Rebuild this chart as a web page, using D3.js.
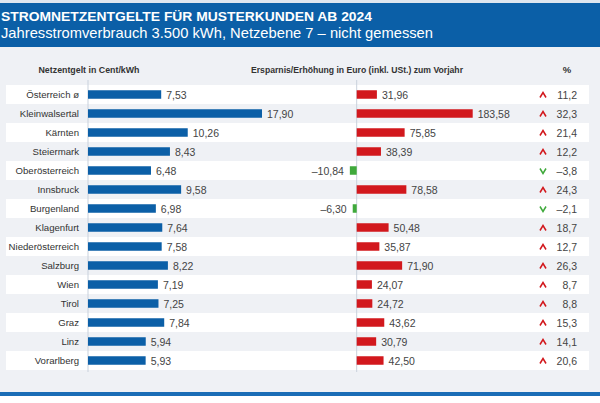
<!DOCTYPE html>
<html lang='de'>
    <head>
        <meta charset="utf-8">
        <title>Stromnetzentgelte</title>
        <script src='https://d3js.org/d3.v7.min.js'></script>
        <style>
            body { margin: 0; background: #fff; }
            svg { display: block; font-family: 'Liberation Sans', Arial, sans-serif; }
        </style>
    </head>
    <body>
        <script type='text/javascript'>
            var w = 600;
            var h = 403;

            var regions = ['Österreich ø', 'Kleinwalsertal', 'Kärnten', 'Steiermark', 'Oberösterreich',
                           'Innsbruck', 'Burgenland', 'Klagenfurt', 'Niederösterreich', 'Salzburg',
                           'Wien', 'Tirol', 'Graz', 'Linz', 'Vorarlberg'];
            var netzentgelt = [7.53, 17.90, 10.26, 8.43, 6.48, 9.58, 6.98, 7.64, 7.58, 8.22, 7.19, 7.25, 7.84, 5.94, 5.93];
            var aenderung = [31.96, 183.58, 75.85, 38.39, -10.84, 78.58, -6.30, 50.48, 35.87, 71.90, 24.07, 24.72, 43.62, 30.79, 42.50];
            var prozent = [11.2, 32.3, 21.4, 12.2, -3.8, 24.3, -2.1, 18.7, 12.7, 26.3, 8.7, 8.8, 15.3, 14.1, 20.6];

            var fmt = function(v, n) {
                var s = Math.abs(v).toFixed(n).replace('.', ',');
                return (v < 0 ? '\u2013' : '') + s;
            };

            var svg = d3.select('body').append('svg')
                .attr('width', w)
                .attr('height', h);

            // background + header
            svg.append('rect').attr('width', w).attr('height', h).attr('fill', '#eff1f5');
            svg.append('rect').attr('y', 0).attr('width', w).attr('height', 3).attr('fill', '#dfe6ef');
            svg.append('rect').attr('y', 3).attr('width', w).attr('height', 44).attr('fill', '#0b5fa7');
            svg.append('rect').attr('y', 392).attr('width', w).attr('height', 4).attr('fill', '#1a6db6');
            svg.append('rect').attr('y', 396).attr('width', w).attr('height', 7).attr('fill', '#ffffff');

            svg.append('text')
                .attr('x', 1).attr('y', 20.5)
                .attr('fill', '#fff')
                .attr('font-size', '13.5px')
                .attr('font-weight', 'bold')
                .attr('textLength', 371)
                .attr('lengthAdjust', 'spacingAndGlyphs')
                .text('STROMNETZENTGELTE FÜR MUSTERKUNDEN AB 2024');
            svg.append('text')
                .attr('x', 1).attr('y', 37.5)
                .attr('fill', '#fff')
                .attr('font-size', '14.5px')
                .attr('textLength', 432)
                .attr('lengthAdjust', 'spacingAndGlyphs')
                .text('Jahresstromverbrauch 3.500 kWh, Netzebene 7 \u2013 nicht gemessen');

            // scales
            var yScale = d3.scaleBand()
                .domain(regions)
                .range([85, 85 + regions.length * 19]);

            var xLeft = d3.scaleLinear()
                .domain([0, d3.max(netzentgelt)])
                .range([88, 262]);

            var xRight = d3.scaleLinear()
                .domain([0, d3.max(aenderung)])
                .range([356.7, 472.7]);

            var barH = 8.5;

            // white rows
            svg.selectAll('rect.row')
                .data(regions.filter(function(d, i) { return i % 2 === 0; }))
                .enter().append('rect')
                .attr('class', 'row')
                .attr('x', 6)
                .attr('width', 583)
                .attr('y', function(d) { return yScale(d); })
                .attr('height', yScale.bandwidth())
                .attr('fill', '#ffffff');

            // column headers
            var head = svg.append('g')
                .attr('font-size', '9.5px')
                .attr('font-weight', 'bold')
                .attr('fill', '#333');
            head.append('text').attr('x', 89).attr('y', 73).attr('text-anchor', 'middle')
                .attr('textLength', 101).attr('lengthAdjust', 'spacingAndGlyphs')
                .text('Netzentgelt in Cent/kWh');
            head.append('text').attr('x', 357).attr('y', 73).attr('text-anchor', 'middle')
                .attr('textLength', 212).attr('lengthAdjust', 'spacingAndGlyphs')
                .text('Ersparnis/Erhöhung in Euro (inkl. USt.) zum Vorjahr');
            head.append('text').attr('x', 567).attr('y', 73).attr('text-anchor', 'middle')
                .text('%');

            // axis lines
            svg.append('line')
                .attr('x1', 88).attr('x2', 88).attr('y1', 80).attr('y2', 372)
                .attr('stroke', '#c9d1dc').attr('stroke-width', 1);
            svg.append('line')
                .attr('x1', 356.7).attr('x2', 356.7).attr('y1', 80).attr('y2', 372)
                .attr('stroke', '#c9d1dc').attr('stroke-width', 1);

            var cy = function(i) { return yScale(regions[i]) + yScale.bandwidth() / 2; };

            // category labels
            svg.selectAll('text.cat')
                .data(regions)
                .enter().append('text')
                .attr('class', 'cat')
                .attr('x', 79)
                .attr('y', function(d, i) { return cy(i) + 3.5; })
                .attr('text-anchor', 'end')
                .attr('font-size', '9.6px')
                .attr('fill', '#333')
                .text(function(d) { return d; });

            // left bars
            svg.selectAll('rect.left')
                .data(netzentgelt)
                .enter().append('rect')
                .attr('class', 'left')
                .attr('x', xLeft(0))
                .attr('y', function(d, i) { return cy(i) - barH / 2; })
                .attr('width', function(d) { return xLeft(d) - xLeft(0); })
                .attr('height', barH)
                .attr('fill', '#0b5fa7');

            svg.selectAll('text.lval')
                .data(netzentgelt)
                .enter().append('text')
                .attr('class', 'lval')
                .attr('x', function(d) { return xLeft(d) + 5; })
                .attr('y', function(d, i) { return cy(i) + 4; })
                .attr('font-size', '10.5px')
                .attr('fill', '#444')
                .text(function(d) { return fmt(d, 2); });

            // right bars
            svg.selectAll('rect.right')
                .data(aenderung)
                .enter().append('rect')
                .attr('class', 'right')
                .attr('x', function(d) { return Math.min(xRight(0), xRight(d)); })
                .attr('y', function(d, i) { return cy(i) - barH / 2; })
                .attr('width', function(d) { return Math.abs(xRight(d) - xRight(0)); })
                .attr('height', barH)
                .attr('fill', function(d) { return d < 0 ? '#3fa93b' : '#d2181d'; });

            svg.selectAll('text.rval')
                .data(aenderung)
                .enter().append('text')
                .attr('class', 'rval')
                .attr('x', function(d) { return d < 0 ? xRight(d) - 6 : xRight(d) + 5; })
                .attr('y', function(d, i) { return cy(i) + 4; })
                .attr('text-anchor', function(d) { return d < 0 ? 'end' : 'start'; })
                .attr('font-size', '10.5px')
                .attr('fill', '#444')
                .text(function(d) { return fmt(d, 2); });

            // arrows
            svg.selectAll('path.arrow')
                .data(prozent)
                .enter().append('path')
                .attr('class', 'arrow')
                .attr('d', function(d, i) {
                    var x = 543, y = cy(i) + 0.5;
                    return d < 0
                        ? 'M' + (x - 3) + ',' + (y - 2.5) + 'L' + x + ',' + (y + 2.5) + 'L' + (x + 3) + ',' + (y - 2.5)
                        : 'M' + (x - 3) + ',' + (y + 2.5) + 'L' + x + ',' + (y - 2.5) + 'L' + (x + 3) + ',' + (y + 2.5);
                })
                .attr('fill', 'none')
                .attr('stroke', function(d) { return d < 0 ? '#3fa93b' : '#d2181d'; })
                .attr('stroke-width', 1.5);

            svg.selectAll('text.pct')
                .data(prozent)
                .enter().append('text')
                .attr('class', 'pct')
                .attr('x', 577)
                .attr('y', function(d, i) { return cy(i) + 4; })
                .attr('text-anchor', 'end')
                .attr('font-size', '10.5px')
                .attr('fill', '#444')
                .text(function(d) { return fmt(d, 1); });
        </script>
    </body>
</html>
